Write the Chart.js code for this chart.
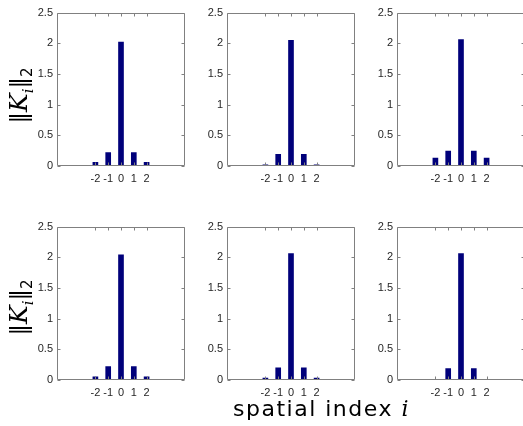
<!DOCTYPE html>
<html>
<head>
<meta charset="utf-8">
<script src="https://cdn.jsdelivr.net/npm/chart.js@4/dist/chart.umd.min.js"></script>
<style>
  html, body { margin:0; padding:0; background:#fff; width:523px; height:426px; overflow:hidden; position:relative; }
  .cv { position:absolute; }
  .ylab { position:absolute; font-family:"DejaVu Sans", sans-serif; font-size:23px; color:#000;
          transform-origin: center center; transform: rotate(-90deg); white-space:nowrap; }
  .ylab i { font-family:"DejaVu Serif", "Liberation Serif", serif; font-style:italic; font-size:25px; }
  .ylab sub { font-size:15px; }
  .xlab { position:absolute; font-family:"DejaVu Sans", sans-serif; font-size:22px; letter-spacing:1.5px; color:#000; white-space:nowrap; }
  .xlab i { font-family:"DejaVu Serif", serif; font-style:italic; }
</style>
</head>
<body>
<canvas id="c0" class="cv"></canvas>
<canvas id="c1" class="cv"></canvas>
<canvas id="c2" class="cv"></canvas>
<canvas id="c3" class="cv"></canvas>
<canvas id="c4" class="cv"></canvas>
<canvas id="c5" class="cv"></canvas>
<div class="ylab" id="yl0">‖<i>K<sub>i</sub></i>‖<sub>2</sub></div>
<div class="ylab" id="yl1">‖<i>K<sub>i</sub></i>‖<sub>2</sub></div>
<div class="xlab" id="xl">spatial index <i>i</i></div>
<script>
const spatialIndex = [-2, -1, 0, 1, 2];
const xTickLabels = ["-2", "-1", "0", "1", "2"];
const yTickValues = [0, 0.5, 1, 1.5, 2, 2.5];
const yTickLabels = ["0", "0.5", "1", "1.5", "2", "2.5"];

const norms1 = [0.06, 0.22, 2.02, 0.22, 0.06];
const norms2 = [0.02, 0.19, 2.05, 0.19, 0.02];
const norms3 = [0.13, 0.245, 2.06, 0.245, 0.13];
const norms4 = [0.05, 0.22, 2.04, 0.22, 0.05];
const norms5 = [0.03, 0.20, 2.06, 0.20, 0.03];
const norms6 = [0.01, 0.185, 2.06, 0.185, 0.01];

const allSeries = [norms1, norms2, norms3, norms4, norms5, norms6];

// layout
const PLOT_W = 128, PLOT_H = 156;
const colLeft = [57, 227, 397];
const rowTop = [10, 224];
const YAXW = 40, XAXH = 24, PADT = 8, PADR = 2;

const frameColor = '#808080';
const frame = {
  id: 'frame',
  afterDraw(chart) {
    const ctx = chart.ctx, a = chart.chartArea;
    const xs = chart.scales.x, ys = chart.scales.y;
    ctx.save();
    ctx.strokeStyle = frameColor;
    ctx.lineWidth = 1;
    ctx.beginPath();
    const L = Math.round(a.left) + 0.5, R = Math.round(a.right) - 0.5;
    const T = Math.round(a.top) + 0.5, B = Math.round(a.bottom) - 0.5;
    ctx.rect(L, T, R - L, B - T);
    const tl = 3;
    spatialIndex.forEach(v => {
      const px = Math.round(xs.getPixelForValue(v)) + 0.5;
      ctx.moveTo(px, B); ctx.lineTo(px, B - tl);
      ctx.moveTo(px, T); ctx.lineTo(px, T + tl);
    });
    yTickValues.forEach(v => {
      const py = Math.round(ys.getPixelForValue(v)) + 0.5;
      ctx.moveTo(L, py); ctx.lineTo(L + tl, py);
      ctx.moveTo(R, py); ctx.lineTo(R - tl, py);
    });
    ctx.stroke();
    ctx.restore();
  }
};

allSeries.forEach((vals, k) => {
  const r = Math.floor(k / 3), c = k % 3;
  const cv = document.getElementById('c' + k);
  const w = YAXW + PLOT_W + PADR, h = PADT + PLOT_H + XAXH;
  cv.style.left = (colLeft[c] - YAXW) + 'px';
  cv.style.top = (rowTop[r] - PADT) + 'px';
  cv.style.width = w + 'px';
  cv.style.height = h + 'px';
  cv.width = w; cv.height = h;
  new Chart(cv, {
    type: 'bar',
    data: {
      datasets: [{
        data: spatialIndex.map((x, i) => ({ x: x, y: vals[i] })),
        backgroundColor: '#00007a',
        borderWidth: 0,
        barThickness: 5
      }]
    },
    options: {
      responsive: false,
      animation: false,
      devicePixelRatio: 1,
      layout: { padding: { top: PADT, right: PADR, left: 0, bottom: 0 } },
      plugins: { legend: { display: false }, tooltip: { enabled: false } },
      scales: {
        x: {
          type: 'linear', min: -5, max: 5, offset: false,
          grid: { display: false, drawTicks: false },
          border: { display: false },
          afterBuildTicks: s => { s.ticks = spatialIndex.map(v => ({ value: v })); },
          afterFit: s => { s.height = XAXH; },
          ticks: {
            padding: 6, maxRotation: 0, autoSkip: false,
            color: '#262626', font: { family: 'Liberation Sans, Arial, sans-serif', size: 11 },
            callback: (v) => xTickLabels[spatialIndex.indexOf(v)]
          }
        },
        y: {
          min: 0, max: 2.5,
          grid: { display: false, drawTicks: false },
          border: { display: false },
          afterBuildTicks: s => { s.ticks = yTickValues.map(v => ({ value: v })); },
          afterFit: s => { s.width = YAXW; },
          ticks: {
            padding: 4, autoSkip: false,
            color: '#262626', font: { family: 'Liberation Sans, Arial, sans-serif', size: 11 },
            callback: (v) => yTickLabels[yTickValues.indexOf(v)]
          }
        }
      }
    },
    plugins: [frame]
  });
});

// axis labels placement
function placeY(id, cy) {
  const el = document.getElementById(id);
  const bw = el.offsetWidth, bh = el.offsetHeight;
  el.style.left = (20 - bw / 2) + 'px';
  el.style.top = (cy - bh / 2) + 'px';
}
placeY('yl0', 95);
placeY('yl1', 307);
const xl = document.getElementById('xl');
xl.style.left = '233px';
xl.style.top = '396px';
</script>
</body>
</html>
